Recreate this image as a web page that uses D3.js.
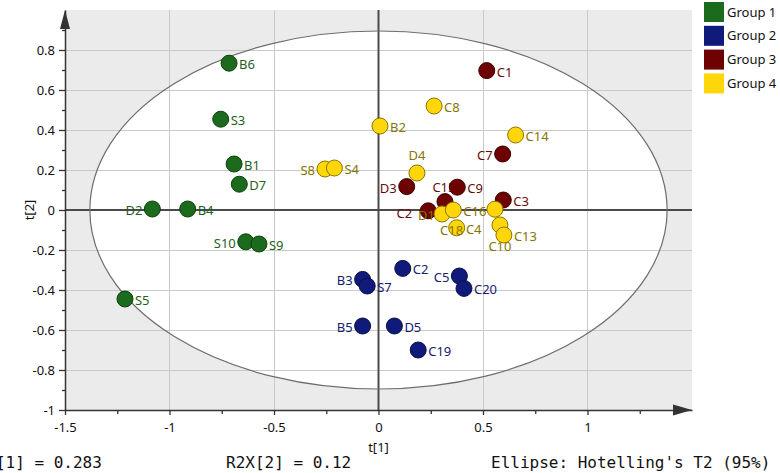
<!DOCTYPE html>
<html>
<head>
<meta charset="utf-8">
<script src="https://cdn.jsdelivr.net/npm/d3@7"></script>
<style>
  html, body { margin: 0; padding: 0; background: #ffffff; }
  svg { display: block; }
</style>
</head>
<body>
<svg id="chart" width="780" height="473"></svg>
<script>
// ---------------- DATA ----------------
const groupNames = ["Group 1", "Group 2", "Group 3", "Group 4"];

const group1Samples = ["B6", "S3", "B1", "D7", "D2", "B4", "S10", "S9", "S5"];
const group1T1 = [-0.715, -0.755, -0.691, -0.666, -1.082, -0.913, -0.635, -0.572, -1.213];
const group1T2 = [0.734, 0.454, 0.230, 0.129, 0.005, 0.005, -0.159, -0.170, -0.445];

const group2Samples = ["C2", "B3", "S7", "C5", "C20", "B5", "D5", "C19"];
const group2T1 = [0.116, -0.076, -0.054, 0.387, 0.409, -0.076, 0.076, 0.190];
const group2T2 = [-0.292, -0.347, -0.380, -0.330, -0.392, -0.580, -0.580, -0.700];

const group3Samples = ["C1", "C7", "D3", "C15", "C9", "C2", "C3"];
const group3T1 = [0.518, 0.594, 0.135, 0.318, 0.377, 0.238, 0.597];
const group3T2 = [0.697, 0.280, 0.117, 0.042, 0.114, -0.004, 0.050];

const group4Samples = ["S8", "S4", "B2", "D4", "C8", "C14", "D1", "C16", "C18", "C4", "C10", "C13"];
const group4T1 = [-0.256, -0.211, 0.007, 0.184, 0.266, 0.656, 0.304, 0.358, 0.374, 0.557, 0.581, 0.600];
const group4T2 = [0.205, 0.210, 0.420, 0.185, 0.520, 0.375, -0.020, 0.000, -0.089, 0.004, -0.075, -0.125];

const xTickValues = [-1.5, -1, -0.5, 0, 0.5, 1];
const xMinorTicks = [-1.25, -0.75, -0.25, 0.25, 0.75, 1.25];
const yTickValues = [-1, -0.8, -0.6, -0.4, -0.2, 0, 0.2, 0.4, 0.6, 0.8];
const yMinorTicks = [-0.9, -0.7, -0.5, -0.3, -0.1, 0.1, 0.3, 0.5, 0.7, 0.9];

const ellipseT1 = 1.381;   // Hotelling's T2 (95%) semi-axis on t[1]
const ellipseT2 = 0.895;   // semi-axis on t[2]

const r2x1 = "0.283";
const r2x2 = "0.12";
const ellipseNote = "Ellipse: Hotelling's T2 (95%)";
const xTitle = "t[1]";
const yTitle = "t[2]";

// ---------------- STYLE ----------------
const fills   = ["#1c6b1c", "#101a7a", "#6e0202", "#ffd60a"];
const strokes = ["#0f3f0f", "#0a0f45", "#3f0000", "#8a7600"];
const labelColors = ["#1f5f1f", "#16206e", "#6a0a0a", "#867500"];

// label placement: [dx, dy, anchor]
const defaultRight = [10, 6, "start"];
const defaultLeft = [-10, 6, "end"];
const labelPlacement = {
  "1:D2": defaultLeft, "1:S10": defaultLeft,
  "2:B3": defaultLeft, "2:C5": defaultLeft, "2:B5": defaultLeft,
  "3:C7": defaultLeft, "3:D3": defaultLeft, "3:C2": [-16, 7, "end"],
  "3:C15": [-1, -10, "middle"],
  "4:S8": defaultLeft, "4:D1": [-7, 6, "end"],
  "4:D4": [0, -13, "middle"],
  "4:C18": [-5, 7, "middle"],
  "4:C4": [-29, 25, "start"],
  "4:C10": [0, 26, "middle"]
};

// ---------------- CHART ----------------
const svg = d3.select("#chart");
const x = d3.scaleLinear().domain([-1.5, 1.5]).range([65, 692]);
const y = d3.scaleLinear().domain([-1, 1]).range([410, 10]);
const fontSans = "'Noto Sans', 'Open Sans', sans-serif";

// plot background
svg.append("rect")
  .attr("x", x(-1.5)).attr("y", y(1))
  .attr("width", x(1.5) - x(-1.5)).attr("height", y(-1) - y(1))
  .attr("fill", "#ebebeb");

// ellipse fill
svg.append("ellipse")
  .attr("cx", x(0)).attr("cy", y(0))
  .attr("rx", x(ellipseT1) - x(0)).attr("ry", y(0) - y(ellipseT2))
  .attr("fill", "#ffffff");

// gridlines
const grid = svg.append("g").attr("stroke", "#c9c9c9").attr("stroke-width", 1).attr("shape-rendering", "crispEdges");
xTickValues.filter(v => v !== 0 && v !== -1.5).forEach(v => {
  grid.append("line").attr("x1", x(v)).attr("x2", x(v)).attr("y1", y(1)).attr("y2", y(-1));
});
yTickValues.filter(v => v !== 0 && v !== -1).forEach(v => {
  grid.append("line").attr("x1", x(-1.5)).attr("x2", x(1.5)).attr("y1", y(v)).attr("y2", y(v));
});

// zero lines
svg.append("line").attr("x1", x(0)).attr("x2", x(0)).attr("y1", y(1)).attr("y2", y(-1))
  .attr("stroke", "#4a4a4a").attr("stroke-width", 2);
svg.append("line").attr("x1", x(-1.5)).attr("x2", x(1.5)).attr("y1", y(0)).attr("y2", y(0))
  .attr("stroke", "#4a4a4a").attr("stroke-width", 2);

// ellipse outline
svg.append("ellipse")
  .attr("cx", x(0)).attr("cy", y(0))
  .attr("rx", x(ellipseT1) - x(0)).attr("ry", y(0) - y(ellipseT2))
  .attr("fill", "none").attr("stroke", "#6e6e6e").attr("stroke-width", 1.2);

// axes
const fmt = d => String(+(+d).toFixed(1));
const xAxis = svg.append("g").attr("transform", `translate(0,${y(-1)})`)
  .call(d3.axisBottom(x).tickValues(xTickValues).tickFormat(fmt).tickSize(5).tickSizeOuter(0).tickPadding(8));
const xMinor = svg.append("g").attr("transform", `translate(0,${y(-1)})`)
  .call(d3.axisBottom(x).tickValues(xMinorTicks).tickFormat("").tickSize(4).tickSizeOuter(0));
const yAxis = svg.append("g").attr("transform", `translate(${x(-1.5)},0)`)
  .call(d3.axisLeft(y).tickValues(yTickValues).tickFormat(fmt).tickSize(6).tickSizeOuter(0).tickPadding(4));
const yMinor = svg.append("g").attr("transform", `translate(${x(-1.5)},0)`)
  .call(d3.axisLeft(y).tickValues(yMinorTicks).tickFormat("").tickSize(3).tickSizeOuter(0));

[xAxis, xMinor, yAxis, yMinor].forEach(a => {
  a.select(".domain").attr("stroke", "#333").attr("stroke-width", 1.5);
  a.selectAll(".tick line").attr("stroke", "#333").attr("stroke-width", 1.3);
  a.selectAll("text").attr("font-family", fontSans).attr("font-size", 13).attr("fill", "#111");
});
xMinor.select(".domain").remove();
yMinor.select(".domain").remove();

// arrows
svg.append("path")
  .attr("d", `M${x(1.5) - 19},${y(-1) - 5.5} L${x(1.5)},${y(-1)} L${x(1.5) - 19},${y(-1) + 5.5} Z`)
  .attr("fill", "#333");
svg.append("path")
  .attr("d", `M${x(-1.5) - 5},${y(1) + 19} L${x(-1.5)},${y(1)} L${x(-1.5) + 5},${y(1) + 19} Z`)
  .attr("fill", "#333");

// axis titles
svg.append("text").attr("x", x(0)).attr("y", 452).attr("text-anchor", "middle")
  .attr("font-family", fontSans).attr("font-size", 13).attr("fill", "#111").text(xTitle);
svg.append("text").attr("transform", `translate(34,${y(0)}) rotate(-90)`).attr("text-anchor", "middle")
  .attr("font-family", fontSans).attr("font-size", 13).attr("fill", "#111").text(yTitle);

// points
const groupsData = [
  [group1Samples, group1T1, group1T2],
  [group2Samples, group2T1, group2T2],
  [group3Samples, group3T1, group3T2],
  [group4Samples, group4T1, group4T2]
];
const pts = svg.append("g");
groupsData.forEach(([names, t1, t2], gi) => {
  names.forEach((name, i) => {
    const cx = x(t1[i]), cy = y(t2[i]);
    pts.append("circle").attr("cx", cx).attr("cy", cy).attr("r", 8)
      .attr("fill", fills[gi]).attr("stroke", strokes[gi]).attr("stroke-width", 1);
    const p = labelPlacement[`${gi + 1}:${name}`] || defaultRight;
    pts.append("text").attr("x", cx + p[0]).attr("y", cy + p[1]).attr("text-anchor", p[2])
      .attr("font-family", fontSans).attr("font-size", 13).attr("fill", labelColors[gi]).text(name);
  });
});

// legend
const legend = svg.append("g");
groupNames.forEach((g, i) => {
  legend.append("rect").attr("x", 704).attr("y", 2 + i * 23.8).attr("width", 20).attr("height", 20)
    .attr("fill", fills[i]);
  legend.append("text").attr("x", 727).attr("y", 16.5 + i * 23.8)
    .attr("font-family", fontSans).attr("font-size", 13).attr("fill", "#111").text(g);
});

// footer statistics
const mono = "'DejaVu Sans Mono', 'Liberation Mono', monospace";
svg.append("text").attr("x", -33).attr("y", 468).attr("font-family", mono).attr("font-size", 16)
  .attr("fill", "#111").attr("xml:space", "preserve").text(`R2X[1] = ${r2x1}`);
svg.append("text").attr("x", 226).attr("y", 468).attr("font-family", mono).attr("font-size", 16)
  .attr("fill", "#111").text(`R2X[2] = ${r2x2}`);
svg.append("text").attr("x", 491).attr("y", 468).attr("font-family", mono).attr("font-size", 16)
  .attr("fill", "#111").text(ellipseNote);
</script>
</body>
</html>
